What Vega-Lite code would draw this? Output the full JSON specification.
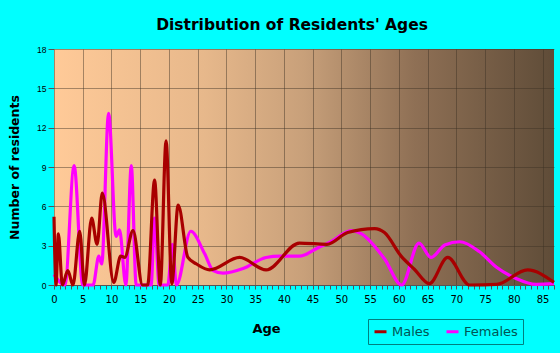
{
  "$schema": "https://vega.github.io/schema/vega-lite/v6.json",
  "autosize": {"type": "none"},
  "width": 500,
  "height": 236,
  "padding": {"left": 54, "top": 49, "right": 6, "bottom": 68},
  "background": "#00ffff",
  "title": {
    "text": "Distribution of Residents' Ages",
    "anchor": "middle",
    "frame": "group",
    "dx": -12,
    "offset": 0,
    "baseline": "alphabetic",
    "font": "DejaVu Sans",
    "fontSize": 15.5,
    "fontWeight": "bold",
    "color": "#000000"
  },
  "config": {
    "view": {
      "stroke": null,
      "fill": {
        "gradient": "linear",
        "x1": 0, "y1": 0, "x2": 1, "y2": 0,
        "stops": [
          {"offset": 0, "color": "#ffca98"},
          {"offset": 0.3, "color": "#e7b88b"},
          {"offset": 0.5, "color": "#c8a07a"},
          {"offset": 0.72, "color": "#8f7055"},
          {"offset": 1, "color": "#5f4c38"}
        ]
      }
    }
  },
  "data": {
    "values": [
      {"age": 0, "n": 0.8, "sex": "Females"},
      {"age": 1.9, "n": 0, "sex": "Females"},
      {"age": 3.5, "n": 9.1, "sex": "Females"},
      {"age": 5, "n": 0, "sex": "Females"},
      {"age": 6.8, "n": 0, "sex": "Females"},
      {"age": 7.8, "n": 2.2, "sex": "Females"},
      {"age": 8.3, "n": 1.6, "sex": "Females"},
      {"age": 9.5, "n": 13.1, "sex": "Females"},
      {"age": 10.8, "n": 3.7, "sex": "Females"},
      {"age": 11.4, "n": 4.2, "sex": "Females"},
      {"age": 12.5, "n": 0, "sex": "Females"},
      {"age": 13.45, "n": 9.1, "sex": "Females"},
      {"age": 14.3, "n": 0, "sex": "Females"},
      {"age": 16.9, "n": 0, "sex": "Females"},
      {"age": 17.5, "n": 5.1, "sex": "Females"},
      {"age": 18.3, "n": 0, "sex": "Females"},
      {"age": 19.8, "n": 0, "sex": "Females"},
      {"age": 20.6, "n": 3.1, "sex": "Females"},
      {"age": 21.3, "n": 0, "sex": "Females"},
      {"age": 23.8, "n": 4.1, "sex": "Females"},
      {"age": 26.2, "n": 2.4, "sex": "Females"},
      {"age": 27.7, "n": 1.1, "sex": "Females"},
      {"age": 29.4, "n": 0.9, "sex": "Females"},
      {"age": 32.9, "n": 1.25, "sex": "Females"},
      {"age": 36.9, "n": 2.1, "sex": "Females"},
      {"age": 39.3, "n": 2.2, "sex": "Females"},
      {"age": 42.7, "n": 2.2, "sex": "Females"},
      {"age": 46.2, "n": 2.9, "sex": "Females"},
      {"age": 48.2, "n": 3.3, "sex": "Females"},
      {"age": 51.7, "n": 4.15, "sex": "Females"},
      {"age": 53.5, "n": 3.9, "sex": "Females"},
      {"age": 57.5, "n": 2.0, "sex": "Females"},
      {"age": 60.5, "n": 0, "sex": "Females"},
      {"age": 63.5, "n": 3.2, "sex": "Females"},
      {"age": 65.6, "n": 2.1, "sex": "Females"},
      {"age": 68, "n": 3.05, "sex": "Females"},
      {"age": 70.6, "n": 3.3, "sex": "Females"},
      {"age": 74, "n": 2.55, "sex": "Females"},
      {"age": 77, "n": 1.35, "sex": "Females"},
      {"age": 80.4, "n": 0.5, "sex": "Females"},
      {"age": 83.9, "n": 0.05, "sex": "Females"},
      {"age": 87, "n": 0.1, "sex": "Females"},
      {"age": 0, "n": 5.2, "sex": "Males"},
      {"age": 0.35, "n": 0, "sex": "Males"},
      {"age": 0.76, "n": 3.9, "sex": "Males"},
      {"age": 1.45, "n": 0, "sex": "Males"},
      {"age": 2.4, "n": 1.1, "sex": "Males"},
      {"age": 3.3, "n": 0, "sex": "Males"},
      {"age": 4.47, "n": 4.1, "sex": "Males"},
      {"age": 5.3, "n": 0, "sex": "Males"},
      {"age": 6.55, "n": 5.1, "sex": "Males"},
      {"age": 7.5, "n": 3.1, "sex": "Males"},
      {"age": 8.4, "n": 7.0, "sex": "Males"},
      {"age": 10.4, "n": 0.2, "sex": "Males"},
      {"age": 11.6, "n": 2.2, "sex": "Males"},
      {"age": 12.3, "n": 2.1, "sex": "Males"},
      {"age": 13.75, "n": 4.15, "sex": "Males"},
      {"age": 15.4, "n": 0, "sex": "Males"},
      {"age": 16.3, "n": 0, "sex": "Males"},
      {"age": 17.5, "n": 8.0, "sex": "Males"},
      {"age": 18.5, "n": 0, "sex": "Males"},
      {"age": 19.5, "n": 11.0, "sex": "Males"},
      {"age": 20.5, "n": 0.1, "sex": "Males"},
      {"age": 21.6, "n": 6.1, "sex": "Males"},
      {"age": 23.3, "n": 2.1, "sex": "Males"},
      {"age": 24.8, "n": 1.6, "sex": "Males"},
      {"age": 27.1, "n": 1.15, "sex": "Males"},
      {"age": 32.3, "n": 2.1, "sex": "Males"},
      {"age": 36.9, "n": 1.15, "sex": "Males"},
      {"age": 42.7, "n": 3.2, "sex": "Males"},
      {"age": 47.5, "n": 3.1, "sex": "Males"},
      {"age": 51.1, "n": 4.0, "sex": "Males"},
      {"age": 55.8, "n": 4.3, "sex": "Males"},
      {"age": 57.5, "n": 4.0, "sex": "Males"},
      {"age": 60.4, "n": 2.2, "sex": "Males"},
      {"age": 62.7, "n": 1.2, "sex": "Males"},
      {"age": 65.3, "n": 0.1, "sex": "Males"},
      {"age": 68.5, "n": 2.1, "sex": "Males"},
      {"age": 72.3, "n": 0, "sex": "Males"},
      {"age": 77, "n": 0.05, "sex": "Males"},
      {"age": 82.4, "n": 1.15, "sex": "Males"},
      {"age": 87, "n": 0.2, "sex": "Males"}
    ]
  },
  "mark": {"type": "line", "interpolate": "monotone", "strokeWidth": 3.2},
  "encoding": {
    "x": {
      "field": "age",
      "type": "quantitative",
      "scale": {"domain": [0, 87], "nice": false, "zero": false},
      "axis": {
        "title": "Age",
        "titleFont": "DejaVu Sans",
        "titleFontSize": 13,
        "titleFontWeight": "bold",
        "titleColor": "#000000",
        "titleX": 212,
        "titleY": 47,
        "titleBaseline": "alphabetic",
        "titleAnchor": "middle",
        "values": [0,1,2,3,4,5,6,7,8,9,10,11,12,13,14,15,16,17,18,19,20,21,22,23,24,25,26,27,28,29,30,31,32,33,34,35,36,37,38,39,40,41,42,43,44,45,46,47,48,49,50,51,52,53,54,55,56,57,58,59,60,61,62,63,64,65,66,67,68,69,70,71,72,73,74,75,76,77,78,79,80,81,82,83,84,85,86,87],
        "labelExpr": "datum.value % 5 === 0 ? datum.label : ''",
        "labelOverlap": false,
        "labelFlush": false,
        "labelFont": "DejaVu Sans",
        "labelFontSize": 10,
        "labelColor": "#000000",
        "labelPadding": 5,
        "tickSize": 4,
        "tickColor": "#555555",
        "domainColor": "#555555",
        "grid": true,
        "gridColor": "#3c3024",
        "gridOpacity": {"condition": {"test": "datum.value % 5 === 0", "value": 0.45}, "value": 0}
      }
    },
    "y": {
      "field": "n",
      "type": "quantitative",
      "scale": {"domain": [0, 18], "nice": false},
      "axis": {
        "title": "Number of residents",
        "titleFont": "DejaVu Sans",
        "titleFontSize": 12.5,
        "titleFontWeight": "bold",
        "titleColor": "#000000",
        "titleX": -40,
        "titleY": 118,
        "titleBaseline": "middle",
        "titleAngle": -90,
        "values": [0, 3, 6, 9, 12, 15, 18],
        "labelFont": "Liberation Sans",
        "labelFontSize": 8.5,
        "labelColor": "#000000",
        "labelPadding": 2,
        "tickSize": 6,
        "tickColor": "#555555",
        "domain": false,
        "grid": true,
        "gridColor": "#3c3024",
        "gridOpacity": 0.45
      }
    },
    "color": {
      "field": "sex",
      "type": "nominal",
      "sort": ["Males", "Females"],
      "scale": {"domain": ["Males", "Females"], "range": ["#a80000", "#ff00ff"]},
      "legend": {
        "title": null,
        "orient": "none",
        "legendX": 314,
        "legendY": 270,
        "direction": "horizontal",
        "strokeColor": "#008080",
        "padding": 5,
        "symbolType": "stroke",
        "symbolSize": 144,
        "symbolStrokeWidth": 3,
        "labelFont": "DejaVu Sans",
        "labelFontSize": 13,
        "labelColor": "#005555",
        "labelOffset": 4,
        "columnPadding": 10
      }
    }
  }
}
